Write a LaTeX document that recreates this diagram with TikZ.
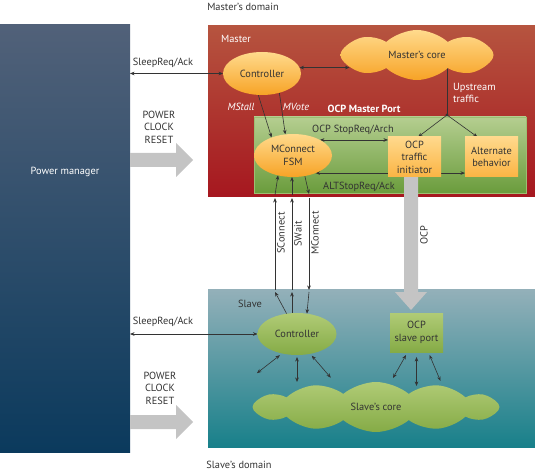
\documentclass[tikz,border=0pt]{standalone}
\usepackage{fontspec}
\setmainfont{PT Sans}
\usetikzlibrary{shapes.geometric,shapes.symbols,arrows.meta,calc}
\pgfdeclarelayer{bg}
\pgfdeclarelayer{mid}
\pgfsetlayers{bg,mid,main}
\definecolor{pmT}{HTML}{516179}
\definecolor{pmB}{HTML}{0B3A5D}
\definecolor{maT}{HTML}{B6543F}
\definecolor{maB}{HTML}{A6171F}
\definecolor{poT}{HTML}{B5CE90}
\definecolor{poB}{HTML}{6A9C3C}
\definecolor{poD}{HTML}{9DBE72}
\definecolor{slT}{HTML}{93B0B9}
\definecolor{slB}{HTML}{18808A}
\definecolor{orT}{HTML}{FFDA8C}
\definecolor{orB}{HTML}{F7A326}
\definecolor{obT}{HTML}{FFD98C}
\definecolor{obB}{HTML}{FBB444}
\definecolor{grT}{HTML}{B0CB76}
\definecolor{grB}{HTML}{85AB46}
\definecolor{grayc}{HTML}{C4C4C4}
\definecolor{lnc}{HTML}{333333}
\definecolor{txtc}{HTML}{333333}
\tikzset{
  txt/.style={text=txtc, inner sep=0, align=center},
  wtxt/.style={text=white, inner sep=0, align=center},
  bigbox/.style={rectangle, inner sep=0, outer sep=0, draw=none},
  oell/.style={ellipse, inner sep=0, outer sep=0, minimum width=78bp, minimum height=43bp, top color=orT, bottom color=orB, text=txtc, align=center},
  gell/.style={ellipse, inner sep=0, outer sep=0, minimum width=79bp, minimum height=42bp, top color=grT, bottom color=grB, text=txtc, align=center},
  obox/.style={rectangle, inner sep=0, outer sep=0, minimum width=53bp, minimum height=40bp, top color=obT, bottom color=obB, text=txtc, align=center},
  gbox/.style={rectangle, inner sep=0, outer sep=0, minimum width=53bp, minimum height=39bp, top color=grT, bottom color=grB, text=txtc, align=center},
  ln/.style={draw=lnc, line width=0.6bp},
  arr/.style={ln, -{Stealth[length=4.5bp,width=3.6bp]}},
  darr/.style={ln, {Stealth[length=4.5bp,width=3.6bp]}-{Stealth[length=4.5bp,width=3.6bp]}},
}
\begin{document}
\begin{tikzpicture}[x=1bp,y=-1bp,font=\fontsize{10.4}{12.5}\selectfont]
\useasboundingbox (0,0) rectangle (535,473);
\begin{pgfonlayer}{bg}
\node[bigbox, top color=pmT, bottom color=pmB, minimum width=130bp, minimum height=427bp] (pm) at (65,238.5) {};
\node[bigbox, top color=maT, bottom color=maB, minimum width=327bp, minimum height=171bp] (master) at (371.5,111.5) {};
\node[bigbox, top color=poT, bottom color=poB, draw=poD, line width=0.8bp, minimum width=272bp, minimum height=76bp] (port) at (390,155) {};
\node[bigbox, top color=slT, bottom color=slB, minimum width=327bp, minimum height=157bp] (slave) at (371.5,368.5) {};
\end{pgfonlayer}

% labels
\node[wtxt] (pmlbl) at (65,172) {Power manager};
\node[txt] (mdom) at (243,7) {Master’s domain};
\node[txt] (sdom) at (239,465) {Slave’s domain};
\node[wtxt] (mlbl) at (236,39) {Master};
\node[txt] (slbl) at (250,304) {Slave};
\node[txt] (msleep) at (163,63) {SleepReq/Ack};
\node[txt] (ssleep) at (163,322) {SleepReq/Ack};
\node[txt] (mpcr) at (159,127) {POWER\\CLOCK\\RESET};
\node[txt] (spcr) at (160,388) {POWER\\CLOCK\\RESET};
\node[wtxt, font=\fontsize{10.4}{12.5}\selectfont\itshape] (mstall) at (241,107) {MStall};
\node[wtxt, font=\fontsize{10.4}{12.5}\selectfont\itshape] (mvote) at (296,107) {MVote};
\node[wtxt, font=\fontsize{10.4}{12.5}\selectfont\bfseries] (portlbl) at (364,109) {OCP Master Port};
\node[wtxt, anchor=west, align=left] (up) at (453,93) {Upstream\\traffic};
\node[txt] (stopreq) at (353,130) {OCP StopReq/Arch};
\node[txt] (altreq) at (359,187) {ALTStopReq/Ack};
\node[txt, rotate=90] (sconl) at (281,233) {SConnect};
\node[txt, rotate=90] (swaitl) at (298,234) {SWait};
\node[txt, rotate=90] (mconl) at (315,233) {MConnect};
\node[txt, rotate=90] (ocpl) at (424,235) {OCP};

% main nodes
\node[oell] (mc) at (262,73.5) {Controller};
\node[cloud, cloud puffs=8, cloud puff arc=85, aspect=3.06, minimum width=153bp, minimum height=50bp, inner sep=0, outer sep=0, top color=orT, bottom color=orB, text=txtc] (mcore) at (417,55) {Master’s core};
\node[oell] (fsm) at (293,155.5) {MConnect\\FSM};
\node[obox] (init) at (414.5,157) {OCP\\traffic\\initiator};
\node[obox] (alt) at (491.5,157) {Alternate\\behavior};
\node[gell] (sc) at (297,334) {Controller};
\node[gbox] (sport) at (416.5,332.5) {OCP\\slave port};
\node[cloud, cloud puffs=12, cloud puff arc=80, aspect=4.9, minimum width=247bp, minimum height=50bp, inner sep=0, outer sep=0, top color=grT, bottom color=grB, text=txtc] (score) at (376,407) {Slave’s core};

\coordinate (jn) at (447,115);
\coordinate (mcoreL) at ($(mcore.west)+(9,0)$);
\coordinate (xa) at (275,0);
\coordinate (xb) at (292,0);
\coordinate (xc) at (309,0);

\begin{pgfonlayer}{mid}
% gray arrows
\fill[grayc] ($(init.south)+(-10.5,0)$) -- ++(0,115) -- ++(-9,0) -- ++(16,18) -- ++(16,-18) -- ++(-9,0) -- ++(0,-115) -- cycle;
\fill[grayc] (130,153) -- (176,153) -- (176,143) -- (193,160) -- (176,177) -- (176,167) -- (130,167) -- cycle;
\fill[grayc] (130,415) -- (176,415) -- (176,405) -- (193,422) -- (176,439) -- (176,429) -- (130,429) -- cycle;
% master connectors
\draw[darr] (mc.west) -- (mc.west -| pm.east);
\draw[darr] (mc.9) -- (mc.9 -| mcoreL);
\draw[ln] (jn |- mcore.center) -- (jn);
\fill[lnc] (jn) circle (1.6bp);
\draw[arr] (jn) -- (init.80);
\draw[arr] (jn) -- (alt.125);
\draw[arr] (mc.-100) -- (fsm.140);
\draw[arr] (mc.-48) -- (fsm.110);
\draw[darr] (fsm.30) -- (fsm.30 -| init.west);
\draw[darr] (fsm.-38) -- (fsm.-38 -| alt.west);
% handshake signals
\draw[arr] ($(xa |- master.south)+(0,-2)$) -- (fsm.-127);
\draw[arr] ($(xb |- master.south)+(0,-2)$) -- (xb |- fsm.south);
\draw[arr] (fsm.-60) -- ($(xc |- master.south)+(0,-3)$);
\draw[arr] (xa |- slave.north) -- ($(xa |- master.south)+(0,1)$);
\draw[arr] (xb |- slave.north) -- ($(xb |- master.south)+(0,1)$);
\draw[arr] ($(xc |- master.south)+(0,1)$) -- (xc |- slave.north);
\draw[arr] (sc.117) -- ($(xa |- slave.north)+(0,2)$);
\draw[arr] (xb |- sc.north) -- ($(xb |- slave.north)+(0,2)$);
\draw[arr] ($(xc |- slave.north)+(0,2)$) -- (sc.64);
% slave connectors
\draw[darr] (sc.west) -- (sc.west -| pm.east);
\draw[darr] ($(sc.-130)+(-1,2)$) -- ++(-23,18);
\draw[darr] ($(sc.south)+(0,2)$) -- (sc.south |- score.north);
\draw[darr] ($(sc.-55)+(1,2)$) -- ++(19,22);
\draw[darr] ($(sport.south)+(-10.5,3)$) -- ++(-13,23);
\draw[darr] ($(sport.south)+(0,5)$) -- ++(0,29);
\draw[darr] ($(sport.south)+(13,3)$) -- ++(11,26);
\end{pgfonlayer}
\end{tikzpicture}
\end{document}
